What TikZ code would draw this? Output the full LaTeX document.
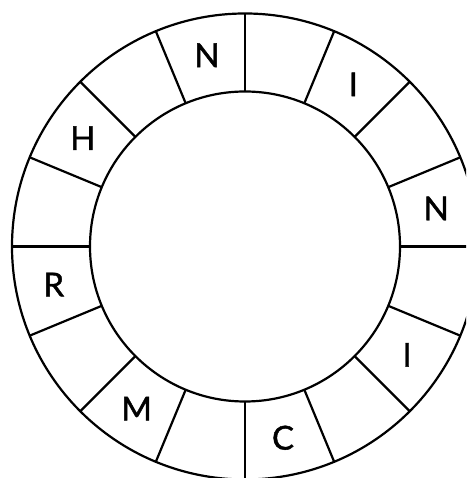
\documentclass[tikz,border=0pt]{standalone}
\usepackage{fontspec}
\setmainfont{Lato}
\newfontfamily\feltfont[FakeBold=1.3]{Lato}
\usetikzlibrary{calc}
\begin{document}
\begin{tikzpicture}[x=1pt, y=1pt,
        strek/.style={line width=2.2pt, black},
        bokstav/.style={inner sep=0pt, font=\feltfont\fontsize{33}{33}\selectfont}]
    \useasboundingbox (0,0) rectangle (466,478);
    \clip (0,0) rectangle (466,478);
    % Ring
    \coordinate (sentrum) at (245,231.5);
    \draw[strek] (sentrum) circle (233pt);
    \draw[strek] (sentrum) circle (155pt);
    % Skillelinjer
    \foreach \v in {0,22.5,...,337.5}
        \draw[strek] ($(sentrum)+(\v:155)$) -- ($(sentrum)+(\v:233)$);
    % Bokstaver i feltene
    \foreach \navn/\v/\tegn in {n1/101.25/N, i1/56.25/I, n2/11.25/N, i2/-33.75/I,
                                c1/-78.75/C, m1/-123.75/M, r1/-168.75/R, h1/146.25/H}
        \node[bokstav] (\navn) at ($(sentrum)+(\v:195)$) {\tegn};
\end{tikzpicture}
\end{document}
